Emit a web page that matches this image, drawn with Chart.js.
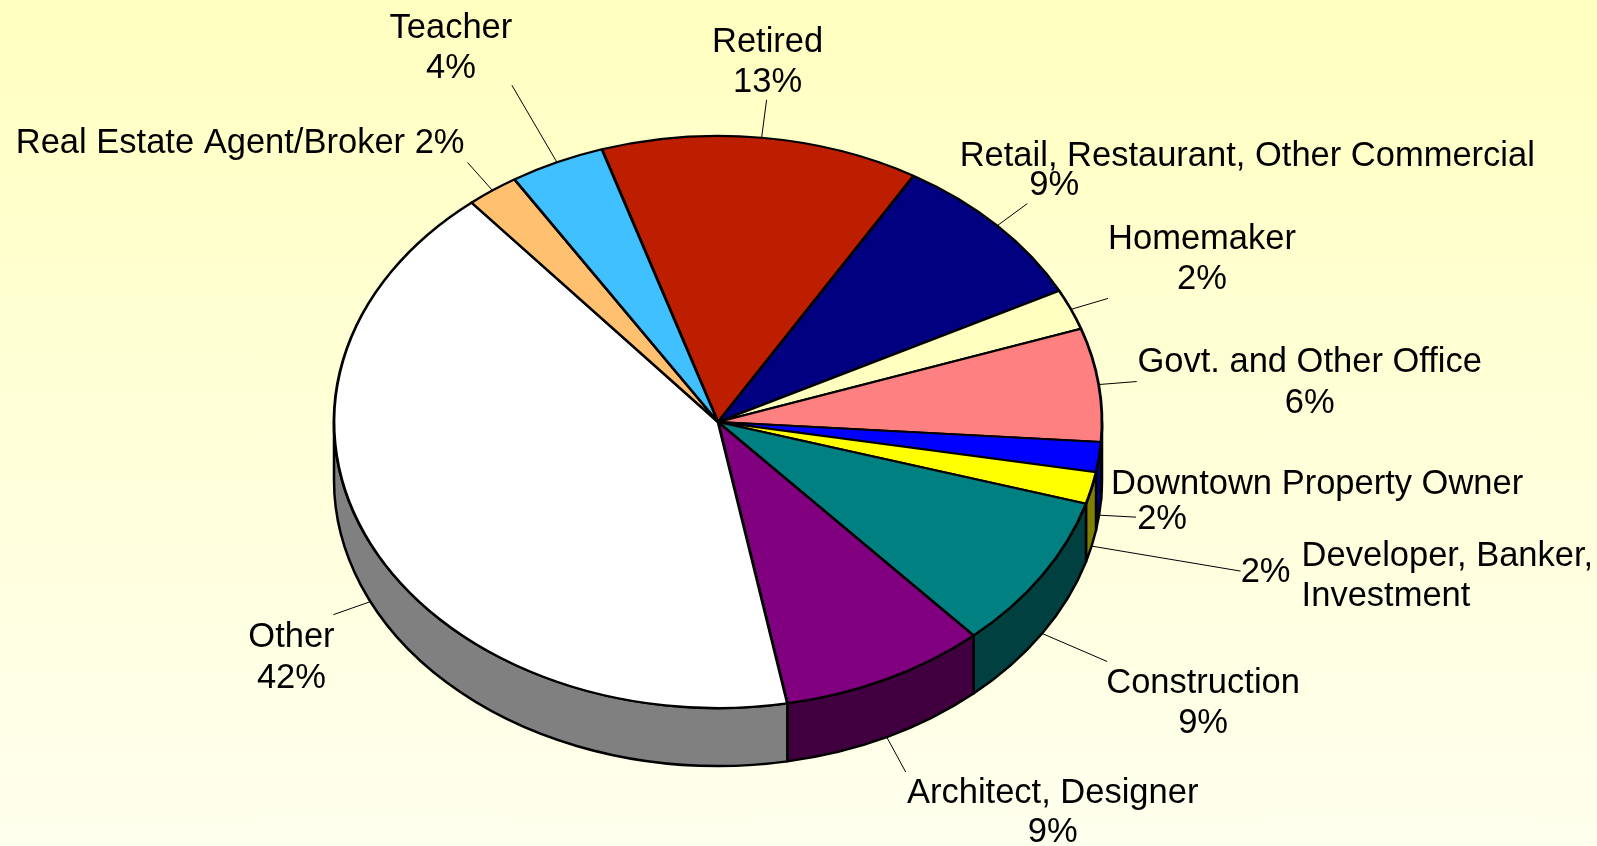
<!DOCTYPE html>
<html>
<head>
<meta charset="utf-8">
<script src="https://cdn.jsdelivr.net/npm/chart.js@4/dist/chart.umd.min.js"></script>
<style>
  html, body { margin: 0; padding: 0; }
  body {
    width: 1597px; height: 846px; overflow: hidden;
    background: linear-gradient(to bottom, #FFFFC0 0%, #FFFFD8 50%, #FFFFEE 100%);
  }
  #wrap { position: relative; width: 1597px; height: 846px; }
  canvas { display: block; }
</style>
</head>
<body>
<div id="wrap"><canvas id="myChart" width="1597" height="846"></canvas></div>
<script>
// occupations, clockwise from 12 o'clock (Retired first)
var categories = [
    'Retired',
    'Retail, Restaurant, Other Commercial',
    'Homemaker',
    'Govt. and Other Office',
    'Downtown Property Owner',
    'Developer, Banker, Investment',
    'Construction',
    'Architect, Designer',
    'Other',
    'Real Estate Agent/Broker',
    'Teacher'
];
var shares = [13.4, 8.9, 2.3, 6.4, 1.7, 1.8, 8.8, 8.7, 41.8, 2.2, 4.0];
var colors = [
    '#BE1E00', '#000080', '#FFFFC0', '#FF8080', '#0000FF', '#FFFF00',
    '#008080', '#800080', '#FFFFFF', '#FFC070', '#40C0FF'
];

// label layout, relative to the leader anchor on the pie rim
// end: leader end; lines: [text, dx, dy, align]
var labelLayout = [
    { end: [5, -38], lines: [['Retired', 6, -86, 'center'], ['{p}', 6, -46, 'center']] },
    { end: [30, -22], lines: [['Retail, Restaurant, Other Commercial', 250, -60, 'center'], ['{p}', 57, -31, 'center']] },
    { end: [37, -11], lines: [['Homemaker', 131, -60, 'center'], ['{p}', 131, -20, 'center']] },
    { end: [38, -3], lines: [['Govt. and Other Office', 211, -13, 'center'], ['{p}', 211, 28, 'center']] },
    { end: [37, 2], lines: [['Downtown Property Owner', 218, -21, 'center'], ['{p}', 63, 14, 'center']] },
    { end: [149, 25], lines: [['{p}', 174, 36, 'center'], ['Developer, Banker,', 210, 20, 'left'], ['Investment', 210, 60, 'left']] },
    { end: [65, 28], lines: [['Construction', 161, 60, 'center'], ['{p}', 161, 100, 'center']] },
    { end: [19, 35], lines: [['Architect, Designer', 166, 66, 'center'], ['{p}', 166, 105, 'center']] },
    { end: [-37, 13], lines: [['Other', -79, 45, 'center'], ['{p}', -79, 86, 'center']] },
    { end: [-25, -28], lines: [['Real Estate Agent/Broker {p}', -28, -37, 'right']] },
    { end: [-45, -77], lines: [['Teacher', -106, -124, 'center'], ['{p}', -106, -84, 'center']] }
];

var SQUASH = 0.745;   // vertical tilt of the pie
var DEPTH = 58;       // thickness of the 3d side

function darker(hex) {
    var n = parseInt(hex.slice(1), 16);
    var r = (n >> 16) & 255, g = (n >> 8) & 255, b = n & 255;
    return 'rgb(' + Math.round(r / 2) + ',' + Math.round(g / 2) + ',' + Math.round(b / 2) + ')';
}

var pie3d = {
    id: 'pie3d',
    beforeDatasetsDraw: function(chart) {
        var ctx = chart.ctx;
        var arcs = chart.getDatasetMeta(0).data;
        // side walls first, only the front half shows
        arcs.forEach(function(arc, i) {
            var p = arc.getProps(['x', 'y', 'startAngle', 'endAngle', 'outerRadius']);
            var r = p.outerRadius, ry = r * SQUASH;
            for (var k = -1; k <= 2; k++) {
                var a = Math.max(p.startAngle, 2 * Math.PI * k);
                var b = Math.min(p.endAngle, 2 * Math.PI * k + Math.PI);
                if (b <= a) continue;
                ctx.save();
                ctx.beginPath();
                ctx.ellipse(p.x, p.y, r, ry, 0, a, b, false);
                ctx.lineTo(p.x + r * Math.cos(b), p.y + ry * Math.sin(b) + DEPTH);
                ctx.ellipse(p.x, p.y + DEPTH, r, ry, 0, b, a, true);
                ctx.closePath();
                ctx.fillStyle = darker(colors[i]);
                ctx.fill();
                ctx.lineWidth = 2.5;
                ctx.lineJoin = 'round';
                ctx.strokeStyle = '#000';
                ctx.stroke();
                ctx.restore();
            }
        });
        var c = arcs[0];
        ctx.save();
        ctx.translate(c.x, c.y);
        ctx.scale(1, SQUASH);
        ctx.translate(-c.x, -c.y);
    },
    afterDatasetsDraw: function(chart) {
        chart.ctx.restore();
    },
    afterDraw: function(chart) {
        var ctx = chart.ctx;
        var arcs = chart.getDatasetMeta(0).data;
        var total = shares.reduce(function(s, v) { return s + v; }, 0);
        ctx.save();
        ctx.font = '34.5px "Liberation Sans", Arial, sans-serif';
        ctx.fillStyle = '#000';
        ctx.strokeStyle = '#000';
        ctx.lineWidth = 1;
        arcs.forEach(function(arc, i) {
            var p = arc.getProps(['x', 'y', 'startAngle', 'endAngle', 'outerRadius']);
            var m = (p.startAngle + p.endAngle) / 2;
            var r = p.outerRadius;
            var ax = p.x + r * Math.cos(m);
            var ay = p.y + r * SQUASH * Math.sin(m) + (Math.sin(m) > 0 ? DEPTH : 0);
            var lay = labelLayout[i];
            ctx.beginPath();
            ctx.moveTo(ax, ay);
            ctx.lineTo(ax + lay.end[0], ay + lay.end[1]);
            ctx.stroke();
            var pct = Math.round(shares[i] / total * 100) + '%';
            lay.lines.forEach(function(l) {
                ctx.textAlign = l[3];
                ctx.textBaseline = 'alphabetic';
                ctx.fillText(l[0].replace('{p}', pct), ax + l[1], ay + l[2]);
            });
        });
        ctx.restore();
    }
};

var ctx = document.getElementById('myChart').getContext('2d');
var myPieChart = new Chart(ctx, {
    type: 'pie',
    data: {
        labels: categories,
        datasets: [{
            data: shares,
            backgroundColor: colors,
            borderColor: '#000000',
            borderWidth: 2.8,
            clip: false
        }]
    },
    options: {
        responsive: false,
        animation: false,
        events: [],
        rotation: -17.6,
        radius: 384,
        layout: { padding: { left: 334, right: 495, top: 38, bottom: 40 } },
        plugins: {
            legend: { display: false },
            tooltip: { enabled: false }
        }
    },
    plugins: [pie3d]
});
</script>
</body>
</html>
